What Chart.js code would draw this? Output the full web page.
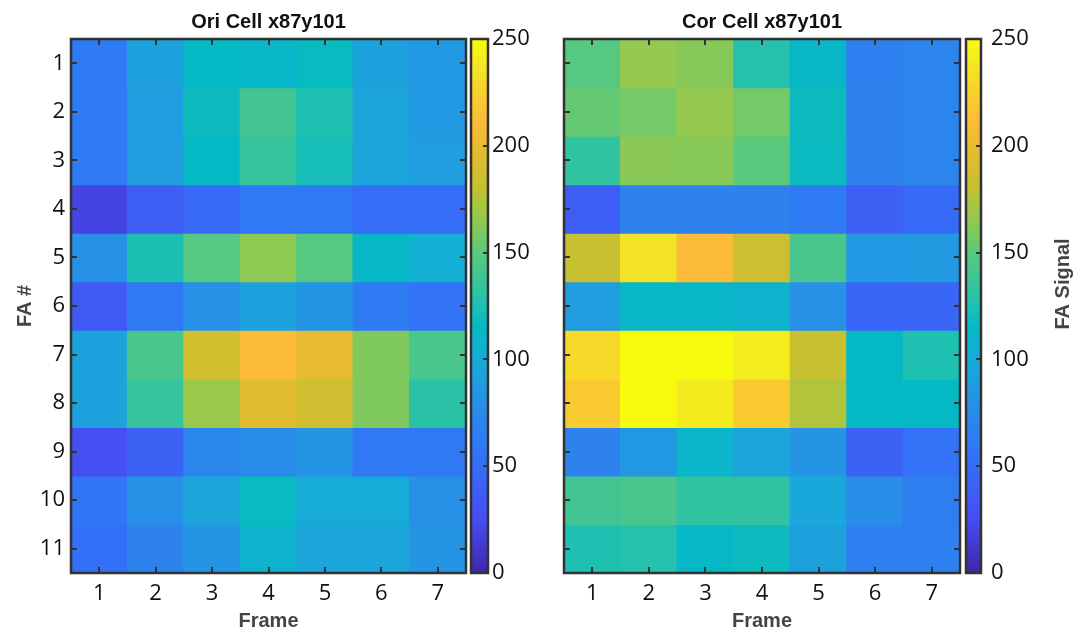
<!DOCTYPE html>
<html><head><meta charset="utf-8">
<script src="https://cdn.jsdelivr.net/npm/chart.js@4.4.1/dist/chart.umd.min.js"></script>
<style>
html,body{margin:0;padding:0;background:#fff;}
#wrap{position:relative;width:1082px;height:633px;overflow:hidden;background:#fff;}
canvas{position:absolute;top:0;}
</style></head><body><div id="wrap">
<canvas id="hL"></canvas><canvas id="cbL"></canvas><canvas id="hR"></canvas><canvas id="cbR"></canvas>
</div>
<script>
// ---------- data ----------
const frames = ['1','2','3','4','5','6','7'];
const faRows = [1,2,3,4,5,6,7,8,9,10,11];
const oriTitle = 'Ori Cell x87y101';
const corTitle = 'Cor Cell x87y101';
const xTitle = 'Frame';
const yTitle = 'FA #';
const cbTitle = 'FA Signal';
const cbRange = [0, 250];
const cbTicks = [0, 50, 100, 150, 200, 250];

// rows = FA # 1..11, columns = Frame 1..7
const oriValues = [
  [62, 92, 115, 113, 116, 92, 85],
  [62, 88, 118, 140, 125, 95, 85],
  [62, 90, 115, 135, 122, 95, 88],
  [20, 38, 48, 60, 60, 50, 50],
  [80, 124, 148, 164, 148, 113, 103],
  [36, 60, 80, 93, 83, 62, 55],
  [93, 143, 188, 212, 198, 160, 143],
  [93, 135, 168, 195, 186, 160, 130],
  [28, 43, 72, 76, 82, 60, 60],
  [57, 80, 95, 116, 100, 100, 80],
  [52, 68, 83, 108, 95, 95, 82]
];
const corValues = [
  [148, 166, 162, 128, 112, 66, 70],
  [153, 157, 166, 157, 118, 68, 70],
  [133, 163, 162, 150, 117, 68, 70],
  [38, 68, 68, 68, 62, 40, 48],
  [182, 235, 212, 185, 143, 85, 87],
  [88, 112, 112, 108, 80, 45, 45],
  [230, 250, 250, 242, 182, 115, 125],
  [222, 250, 240, 222, 175, 115, 115],
  [68, 85, 110, 95, 82, 42, 55],
  [140, 142, 133, 133, 96, 78, 64],
  [125, 128, 114, 118, 92, 66, 66]
];

// ---------- colormap (parula-like) ----------
const cmapStops = [
  [0, [62,38,168]], [25, [71,76,242]], [55, [50,115,248]], [75, [42,138,233]],
  [100, [23,172,216]], [115, [5,185,196]], [125, [30,192,178]], [150, [90,201,125]],
  [165, [145,201,80]], [180, [195,193,48]], [200, [235,186,48]], [212, [253,187,58]],
  [225, [249,208,45]], [237, [243,230,36]], [250, [249,251,14]]
];
function parula(v) {
  v = Math.max(cbRange[0], Math.min(cbRange[1], v));
  for (let i = 1; i < cmapStops.length; i++) {
    const [v1, c1] = cmapStops[i];
    const [v0, c0] = cmapStops[i-1];
    if (v <= v1) {
      const t = (v - v0) / (v1 - v0);
      const c = c0.map((a, k) => Math.round(a + (c1[k] - a) * t));
      return `rgb(${c[0]},${c[1]},${c[2]})`;
    }
  }
  const c = cmapStops[cmapStops.length-1][1];
  return `rgb(${c[0]},${c[1]},${c[2]})`;
}

const TICK_FONT = {family: "'Open Sans', sans-serif", size: 22};
const BOLD_FONT = {family: "'Liberation Sans', Arial, sans-serif", size: 20, weight: 'bold'};
const FRAME_COLOR = '#333333';

function setupCanvas(id, left, width) {
  const cv = document.getElementById(id);
  cv.width = width; cv.height = 633;
  cv.style.left = left + 'px';
  cv.style.width = width + 'px'; cv.style.height = '633px';
  return cv;
}

const heatFrame = {
  id: 'heatFrame',
  afterDatasetsDraw(chart) {
    const {ctx, chartArea: a, scales} = chart;
    ctx.save();
    ctx.strokeStyle = FRAME_COLOR;
    ctx.lineWidth = 2;
    const L = 6;
    ctx.beginPath();
    frames.forEach((f, i) => {
      const x = Math.round(scales.x.getPixelForValue(i));
      ctx.moveTo(x, a.top); ctx.lineTo(x, a.top + L);
      ctx.moveTo(x, a.bottom); ctx.lineTo(x, a.bottom - L);
    });
    faRows.forEach(r => {
      const y = Math.round(scales.y.getPixelForValue(r));
      ctx.moveTo(a.left, y); ctx.lineTo(a.left + L, y);
      ctx.moveTo(a.right, y); ctx.lineTo(a.right - L, y);
    });
    ctx.stroke();
    ctx.lineWidth = 2.5;
    ctx.strokeRect(a.left, a.top, a.right - a.left, a.bottom - a.top);
    ctx.restore();
  }
};

function heatChart(id, left, width, padL, padR, values, title, showY) {
  const cv = setupCanvas(id, left, width);
  const datasets = faRows.map((r, i) => ({
    label: 'FA ' + r,
    xAxisID: 'x', yAxisID: 'y',
    data: frames.map(() => [r - 0.5, r + 0.5]),
    backgroundColor: values[i].map(parula),
    borderWidth: 0,
    barPercentage: 1, categoryPercentage: 1, grouped: false,
    inflateAmount: 0.6
  }));
  return new Chart(cv, {
    type: 'bar',
    data: {labels: frames, datasets},
    options: {
      responsive: false, animation: false, devicePixelRatio: 1,
      layout: {padding: {left: padL, right: padR, top: 0, bottom: 0}},
      plugins: {legend: {display: false}, tooltip: {enabled: false}, title: {display: false}},
      scales: {
        x: {
          type: 'category', position: 'bottom', offset: true,
          grid: {display: false, drawTicks: false}, border: {display: false},
          ticks: {font: TICK_FONT, color: '#111', padding: 8, maxRotation: 0, autoSkip: false},
          title: {display: true, text: xTitle, font: BOLD_FONT, color: '#444', padding: {top: 0, bottom: 0}},
          afterFit: s => { s.height = 60; }
        },
        xTop: {
          type: 'category', position: 'top', labels: frames, offset: true,
          grid: {display: false, drawTicks: false}, border: {display: false},
          ticks: {display: false},
          title: {display: true, text: title, font: BOLD_FONT, color: '#111', padding: {top: 10, bottom: 0}},
          afterFit: s => { s.height = 39; }
        },
        y: {
          type: 'linear', position: 'left', min: 0.5, max: 11.5, reverse: true,
          display: showY,
          grid: {display: false, drawTicks: false}, border: {display: false},
          afterBuildTicks: s => { s.ticks = faRows.map(v => ({value: v})); },
          ticks: {font: TICK_FONT, color: '#111', padding: 6},
          title: {display: showY, text: yTitle, font: BOLD_FONT, color: '#444', padding: {top: 13, bottom: 0}},
          afterFit: s => { s.width = showY ? 71 : 0; }
        }
      }
    },
    plugins: [heatFrame]
  });
}

function cbFramePlugin(withTitle, titleX, titleY) {
  return {
    id: 'cbFrame',
    afterDatasetsDraw(chart) {
      const {ctx, chartArea: a, scales} = chart;
      ctx.save();
      ctx.strokeStyle = FRAME_COLOR;
      ctx.lineWidth = 2;
      ctx.beginPath();
      cbTicks.forEach(v => {
        const y = Math.round(scales.y.getPixelForValue(v));
        ctx.moveTo(a.right, y); ctx.lineTo(a.right - 5, y);
      });
      ctx.stroke();
      ctx.lineWidth = 2.5;
      ctx.strokeRect(a.left, a.top, a.right - a.left, a.bottom - a.top);
      if (withTitle) {
        ctx.translate(titleX, titleY);
        ctx.rotate(-Math.PI / 2);
        ctx.fillStyle = '#444';
        ctx.font = `bold ${BOLD_FONT.size}px ${BOLD_FONT.family}`;
        ctx.textAlign = 'center';
        ctx.textBaseline = 'middle';
        ctx.fillText(cbTitle, 0, 0);
      }
      ctx.restore();
    }
  };
}

function cbChart(id, left, width, padL, barW, labelPad, withTitle, titleX, titleY) {
  const cv = setupCanvas(id, left, width);
  return new Chart(cv, {
    type: 'bar',
    data: {
      labels: ['cb'],
      datasets: [{
        data: [cbRange],
        borderWidth: 0, barPercentage: 1, categoryPercentage: 1, inflateAmount: 0,
        backgroundColor: c => {
          const ch = c.chart;
          if (!ch.chartArea) return 'rgba(0,0,0,0)';
          const y0 = ch.scales.y.getPixelForValue(cbRange[0]);
          const y1 = ch.scales.y.getPixelForValue(cbRange[1]);
          const g = ch.ctx.createLinearGradient(0, y0, 0, y1);
          const n = 50;
          for (let k = 0; k <= n; k++) {
            g.addColorStop(k / n, parula(cbRange[0] + (cbRange[1] - cbRange[0]) * k / n));
          }
          return g;
        }
      }]
    },
    options: {
      responsive: false, animation: false, devicePixelRatio: 1,
      layout: {padding: {left: padL, right: 0, top: 39, bottom: 60}},
      plugins: {legend: {display: false}, tooltip: {enabled: false}},
      scales: {
        x: {display: false, offset: true},
        y: {
          position: 'right', min: cbRange[0], max: cbRange[1],
          grid: {display: false, drawTicks: false}, border: {display: false},
          afterBuildTicks: s => { s.ticks = cbTicks.map(v => ({value: v})); },
          ticks: {font: TICK_FONT, color: '#111', padding: labelPad},
          afterFit: s => { s.width = width - padL - barW; }
        }
      }
    },
    plugins: [cbFramePlugin(withTitle, titleX, titleY)]
  });
}

heatChart('hL', 0, 470, 0, 4, oriValues, oriTitle, true);
cbChart('cbL', 466, 80, 5, 17, 4, false, 0, 0);
heatChart('hR', 554, 410, 10, 4, corValues, corTitle, false);
cbChart('cbR', 960, 122, 6, 15, 10, true, 1063 - 960, 284);
</script>
</body></html>
